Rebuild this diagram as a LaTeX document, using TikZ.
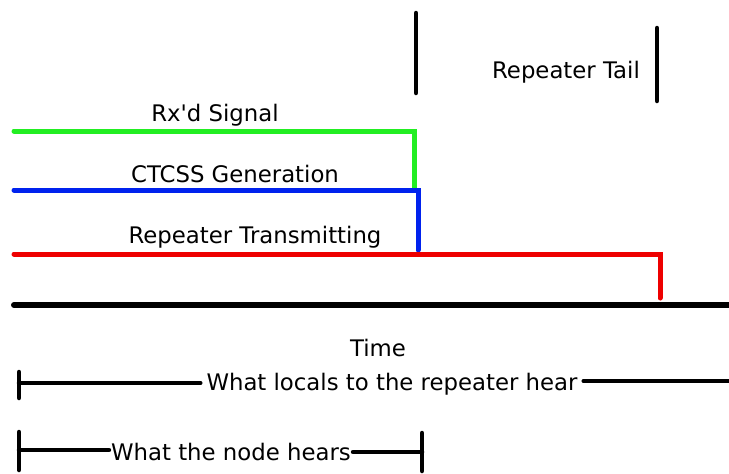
\documentclass[tikz,border=0pt]{standalone}
\usepackage{fontspec}
\setmainfont{DejaVu Sans}[Ligatures=TeXOff]
\definecolor{sgreen}{RGB}{34,238,34}
\definecolor{sblue}{RGB}{0,34,238}
\definecolor{sred}{RGB}{238,0,0}
\begin{document}
\begin{tikzpicture}[x=1pt,y=-1pt,
  sig/.style={line width=5pt,line cap=round,line join=miter},
  axisline/.style={line width=6pt,line cap=round},
  tickline/.style={line width=4.5pt,line cap=round},
  lab/.style={font=\fontsize{22.8}{26}\selectfont,inner sep=0pt,anchor=base},
  blab/.style={font=\fontsize{22.8}{26}\selectfont,inner xsep=6pt,inner ysep=0pt,anchor=base}]
\useasboundingbox (0,0) rectangle (729,474);
% markers
\coordinate (m1a) at (416,13); \coordinate (m1b) at (416,93);
\coordinate (m2a) at (657,28); \coordinate (m2b) at (657,101);
\draw[tickline] (m1a) -- (m1b);
\draw[tickline] (m2a) -- (m2b);
\node[lab] (tail) at (566,78) {Repeater Tail};
% signals
\coordinate (g0) at (14,131); \coordinate (g1) at (414,131); \coordinate (g2) at (414,188);
\coordinate (b0) at (14,190); \coordinate (b1) at (418,190); \coordinate (b2) at (418,250);
\coordinate (r0) at (14,254); \coordinate (r1) at (660,254); \coordinate (r2) at (660,298);
\draw[sig,sgreen] (g0) -- (g1) -- (g2);
\draw[sig,sblue] (b0) -- (b1) -- (b2);
\draw[sig,sred] (r0) -- (r1) -- (r2);
\node[lab] (rx) at (215,121) {Rx'd Signal};
\node[lab] (ctcss) at (235,182) {CTCSS Generation};
\node[lab] (rtx) at (255,243) {Repeater Transmitting};
% time axis
\coordinate (t0) at (14,305); \coordinate (t1) at (729,305);
\draw[axisline] (t0) -- (t1);
\node[lab] (time) at (378,356) {Time};
% bracket 1
\coordinate (k1a) at (19,372); \coordinate (k1b) at (19,398);
\coordinate (l1) at (19,383); \coordinate (l1e) at (729,381);
\node[blab] (locals) at (392,390) {What locals to the repeater hear};
\draw[tickline] (k1a) -- (k1b);
\draw[tickline] (l1) -- (l1 -| locals.west);
\draw[tickline] (l1e -| locals.east) -- (l1e);
% bracket 2
\coordinate (k2a) at (19,432); \coordinate (k2b) at (19,470);
\coordinate (l2) at (19,450); \coordinate (l2e) at (422,452);
\coordinate (k3a) at (422,433); \coordinate (k3b) at (422,471);
\node[blab,inner xsep=2pt] (nodeh) at (231,460) {What the node hears};
\draw[tickline] (k2a) -- (k2b);
\draw[tickline] (l2) -- (l2 -| nodeh.west);
\draw[tickline] (l2e -| nodeh.east) -- (l2e);
\draw[tickline] (k3a) -- (k3b);
\end{tikzpicture}
\end{document}
